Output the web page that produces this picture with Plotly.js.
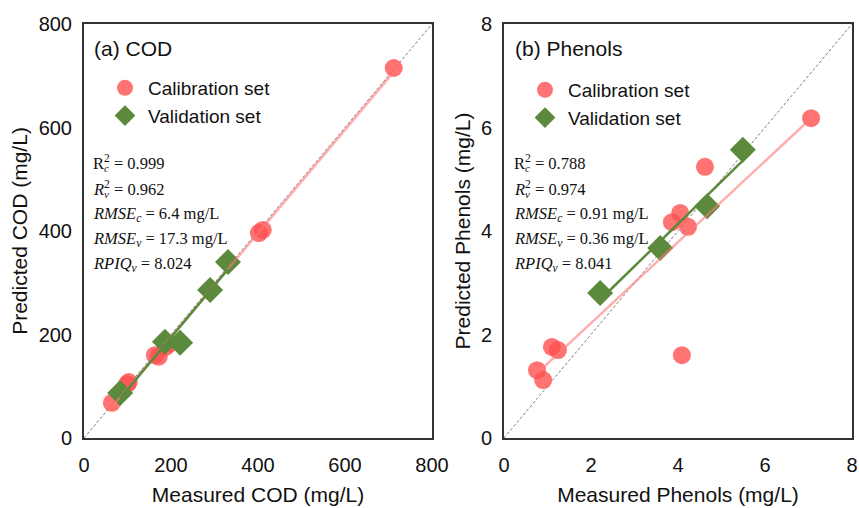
<!DOCTYPE html>
<html><head><meta charset="utf-8">
<script src="https://cdn.plot.ly/plotly-3.0.1.min.js"></script>
<style>body{margin:0;background:#fff}</style></head>
<body><div id="chart" style="width:859px;height:508px"></div>
<script>
// (a) COD data (mg/L)
const codCalMeasured  = [64, 99, 103, 163, 172, 188, 196, 402, 411, 712];
const codCalPredicted = [68, 104, 108, 160, 157, 176, 182, 396, 402, 715];
const codValMeasured  = [83, 186, 221, 290, 331];
const codValPredicted = [87, 186, 184, 286, 340];
// (b) Phenols data (mg/L)
const phCalMeasured  = [0.76, 0.90, 1.10, 1.24, 3.86, 4.05, 4.09, 4.23, 4.62, 7.06];
const phCalPredicted = [1.31, 1.12, 1.76, 1.70, 4.17, 4.35, 1.60, 4.08, 5.24, 6.18];
const phValMeasured  = [2.21, 3.59, 4.67, 5.49];
const phValPredicted = [2.80, 3.67, 4.48, 5.57];
// axes
const codRange = [0, 800];
const phRange = [0, 8];
const codTicks = [0, 200, 400, 600, 800];
const phTicks = [0, 2, 4, 6, 8];
const legendLabels = ['Calibration set', 'Validation set'];
const statsCOD = ['0.999', '0.962', '6.4', '17.3', '8.024'];
const statsPh = ['0.788', '0.974', '0.91', '0.36', '8.041'];

function fitLine(x, y) {
  const n = x.length;
  const mx = x.reduce((a, b) => a + b, 0) / n;
  const my = y.reduce((a, b) => a + b, 0) / n;
  let sxy = 0, sxx = 0;
  for (let i = 0; i < n; i++) { sxy += (x[i] - mx) * (y[i] - my); sxx += (x[i] - mx) ** 2; }
  const m = sxy / sxx, b = my - m * mx;
  const lo = Math.min(...x), hi = Math.max(...x);
  return { x: [lo, hi], y: [b + m * lo, b + m * hi] };
}

const RED = 'rgba(255,80,80,0.8)';
const GREEN = '#5b8a3c';
const SANS = 'Liberation Sans, Arial, sans-serif';
const SERIF = 'Liberation Serif, Times New Roman, serif';
function panel(calX, calY, valX, valY, rng, xa, ya, leg) {
  const fc = fitLine(calX, calY), fv = fitLine(valX, valY);
  return [
    { x: rng, y: rng, xaxis: xa, yaxis: ya, mode: 'lines', line: { color: '#808080', width: 1, dash: '3px,2px' }, showlegend: false, hoverinfo: 'skip' },
    { x: calX, y: calY, xaxis: xa, yaxis: ya, mode: 'markers', name: legendLabels[0], legend: leg,
      marker: { symbol: 'circle', size: 18, color: RED }, showlegend: true },
    { x: valX, y: valY, xaxis: xa, yaxis: ya, mode: 'markers', name: legendLabels[1], legend: leg,
      marker: { symbol: 'diamond', size: 20, color: GREEN }, showlegend: true },
    { x: fc.x, y: fc.y, xaxis: xa, yaxis: ya, mode: 'lines', line: { color: 'rgba(255,120,120,0.6)', width: 2.5 }, showlegend: false },
    { x: fv.x, y: fv.y, xaxis: xa, yaxis: ya, mode: 'lines', line: { color: GREEN, width: 2.5 }, showlegend: false }
  ];
}

const data = [].concat(
  panel(codCalMeasured, codCalPredicted, codValMeasured, codValPredicted, codRange, 'x', 'y', 'legend'),
  panel(phCalMeasured, phCalPredicted, phValMeasured, phValPredicted, phRange, 'x2', 'y2', 'legend2')
);

const W = 859, H = 508;
const px = v => v / W, py = v => 1 - v / H;
function axis(rng, ticks, title, dom, anchor, isY) {
  return {
    domain: dom, anchor: anchor, range: rng, autorange: false,
    tickvals: ticks, ticktext: ticks.map(String), ticks: '',
    ticklabelstandoff: isY ? 6 : 8,
    showline: true, mirror: true, linecolor: '#333', linewidth: 2,
    showgrid: false, zeroline: false,
    tickfont: { family: SANS, size: 20, color: '#111' },
    title: { text: title, font: { family: SANS, size: 21, color: '#111' }, standoff: isY ? 5 : 12 }
  };
}
const yDom = [py(438), py(24)];
const legFont = { family: SANS, size: 19, color: '#111' };
const layout = {
  width: W, height: H, margin: { l: 0, r: 0, t: 0, b: 0 },
  paper_bgcolor: '#fff', plot_bgcolor: '#fff',
  xaxis: axis(codRange, codTicks, 'Measured COD (mg/L)', [px(84), px(432)], 'y', false),
  yaxis: axis(codRange, codTicks, 'Predicted COD (mg/L)', yDom, 'x', true),
  xaxis2: axis(phRange, phTicks, 'Measured Phenols (mg/L)', [px(504), px(852)], 'y2', false),
  yaxis2: axis(phRange, phTicks, 'Predicted Phenols (mg/L)', yDom, 'x2', true),
  legend: { x: px(102), y: py(69), xanchor: 'left', yanchor: 'top', bgcolor: 'rgba(0,0,0,0)',
    font: legFont, itemsizing: 'trace', itemwidth: 36 },
  legend2: { x: px(522), y: py(71), xanchor: 'left', yanchor: 'top', bgcolor: 'rgba(0,0,0,0)',
    font: legFont, itemsizing: 'trace', itemwidth: 36 },
  annotations: []
};
function ann(x, y, text, font, anchor) {
  layout.annotations.push({ xref: 'paper', yref: 'paper', x: px(x), y: py(y), xanchor: anchor || 'left', yanchor: 'middle',
    text: text, showarrow: false, font: font });
}
function addPanelText(x0, label, s) {
  ann(x0 + 1, 48, label, { family: SANS, size: 21, color: '#111' });
  const f = { family: SERIF, size: 16.5, color: '#111' };
  const fs = { family: SERIF, size: 11, color: '#111' };
  const ys = [162, 188, 214, 239, 264];
  // R^2 lines: superscript in main text, subscript placed under it
  ann(x0, ys[0], 'R<sup>2</sup> = ' + s[0], f);
  ann(x0 + 11, ys[0] + 6, '<i>c</i>', fs);
  ann(x0, ys[1], '<i>R</i><sup>2</sup> = ' + s[1], f);
  ann(x0 + 10.5, ys[1] + 6, '<i>v</i>', fs);
  ann(x0, ys[2], '<i>RMSE</i><sub><i>c</i></sub> = ' + s[2] + ' mg/L', f);
  ann(x0, ys[3], '<i>RMSE</i><sub><i>v</i></sub> = ' + s[3] + ' mg/L', f);
  ann(x0, ys[4], '<i>RPIQ</i><sub><i>v</i></sub> = ' + s[4], f);
}
addPanelText(91, '(a) COD', statsCOD);
addPanelText(512, '(b) Phenols', statsPh);

Plotly.newPlot('chart', data, layout, { staticPlot: true, displayModeBar: false });
</script></body></html>
